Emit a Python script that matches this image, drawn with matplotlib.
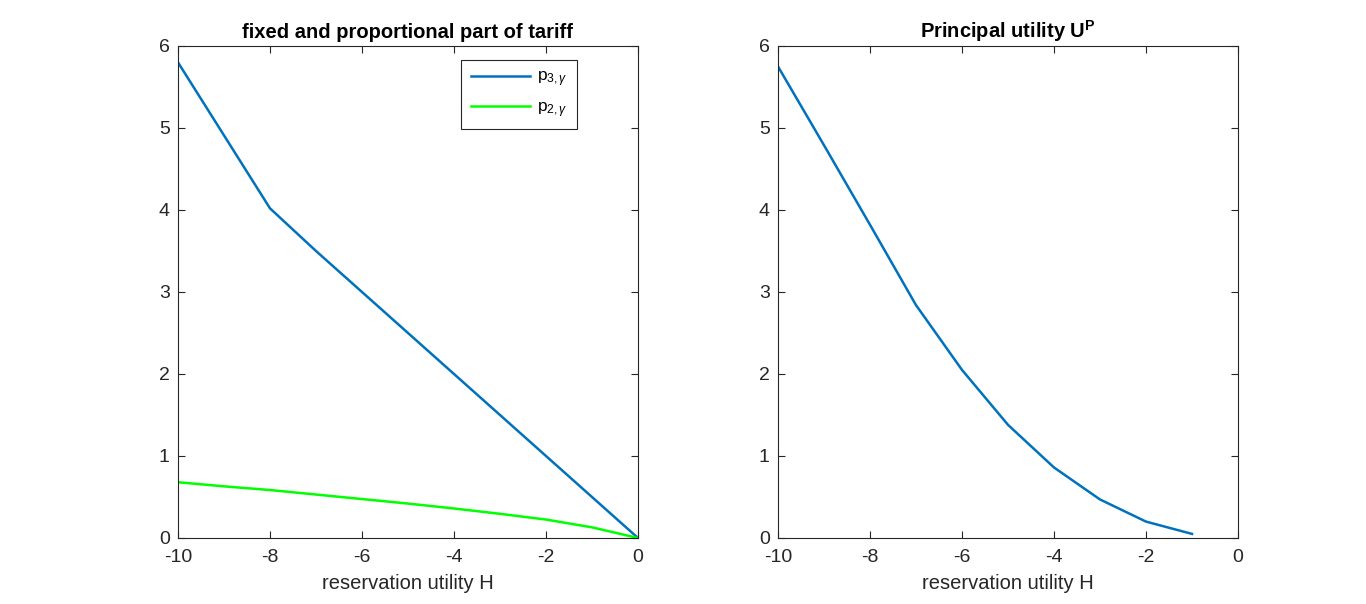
import matplotlib
matplotlib.use("Agg")
import matplotlib.pyplot as plt

# reservation utility values
H = [-10, -9, -8, -7, -6, -5, -4, -3, -2, -1, 0]
p3 = [5.8, 4.91, 4.02, 3.5, 3.0, 2.5, 2.0, 1.5, 1.0, 0.5, 0.0]
p2 = [0.68, 0.63, 0.585, 0.53, 0.475, 0.42, 0.36, 0.295, 0.225, 0.13, 0.0]

H_up = [-10, -9, -8, -7, -6, -5, -4, -3, -2, -1]
UP = [5.75, 4.79, 3.82, 2.84, 2.05, 1.38, 0.86, 0.47, 0.2, 0.05]

plt.rcParams['font.family'] = ['Liberation Sans', 'DejaVu Sans']
plt.rcParams['axes.unicode_minus'] = False
plt.rcParams['mathtext.fontset'] = 'custom'
plt.rcParams['mathtext.rm'] = 'Liberation Sans'
plt.rcParams['mathtext.it'] = 'Liberation Sans:italic'
plt.rcParams['mathtext.bf'] = 'Liberation Sans:bold'

blue = "#0072BD"
green = "#00FF00"
dark = "#262626"

fig = plt.figure(figsize=(13.66, 6.04), dpi=100)
W, Hh = 1366, 604
ax1 = fig.add_axes([178 / W, 66 / Hh, 460 / W, 492 / Hh])
ax2 = fig.add_axes([778 / W, 66 / Hh, 460 / W, 492 / Hh])

ax1.plot(H, p3, color=blue, lw=1.8, label=r"p$_{3,\gamma}$")
ax1.plot(H, p2, color=green, lw=1.8, label=r"p$_{2,\gamma}$")
ax1.set_title("fixed and proportional part of tariff", fontweight="bold",
              fontsize=14.5, pad=6)
leg = ax1.legend(loc="upper right", bbox_to_anchor=(577 / W, 1 - 60 / Hh),
                 bbox_transform=fig.transFigure, fancybox=False, framealpha=1,
                 edgecolor=dark, fontsize=12.5, borderpad=0.55, borderaxespad=0,
                 handlelength=3.4, handletextpad=0.4, labelspacing=0.6)
leg.get_frame().set_linewidth(0.8)

ax2.plot(H_up, UP, color=blue, lw=1.8)
ax2.set_title(r"Principal utility U$^\mathbf{P}$", fontweight="bold",
              fontsize=14.5, pad=6)

for ax in (ax1, ax2):
    ax.set_xlim(-10, 0)
    ax.set_ylim(0, 6)
    ax.set_xticks([-10, -8, -6, -4, -2, 0])
    ax.set_yticks(range(7))
    ax.set_xlabel("reservation utility H", color=dark, fontsize=14.5, labelpad=6)
    ax.tick_params(direction="in", top=True, right=True, colors=dark,
                   labelsize=14, length=5)
    ax.tick_params(axis="x", pad=8)
    ax.tick_params(axis="y", pad=6)
    for s in ax.spines.values():
        s.set_color(dark)
        s.set_linewidth(0.8)

fig.savefig("out.png", dpi=100)
